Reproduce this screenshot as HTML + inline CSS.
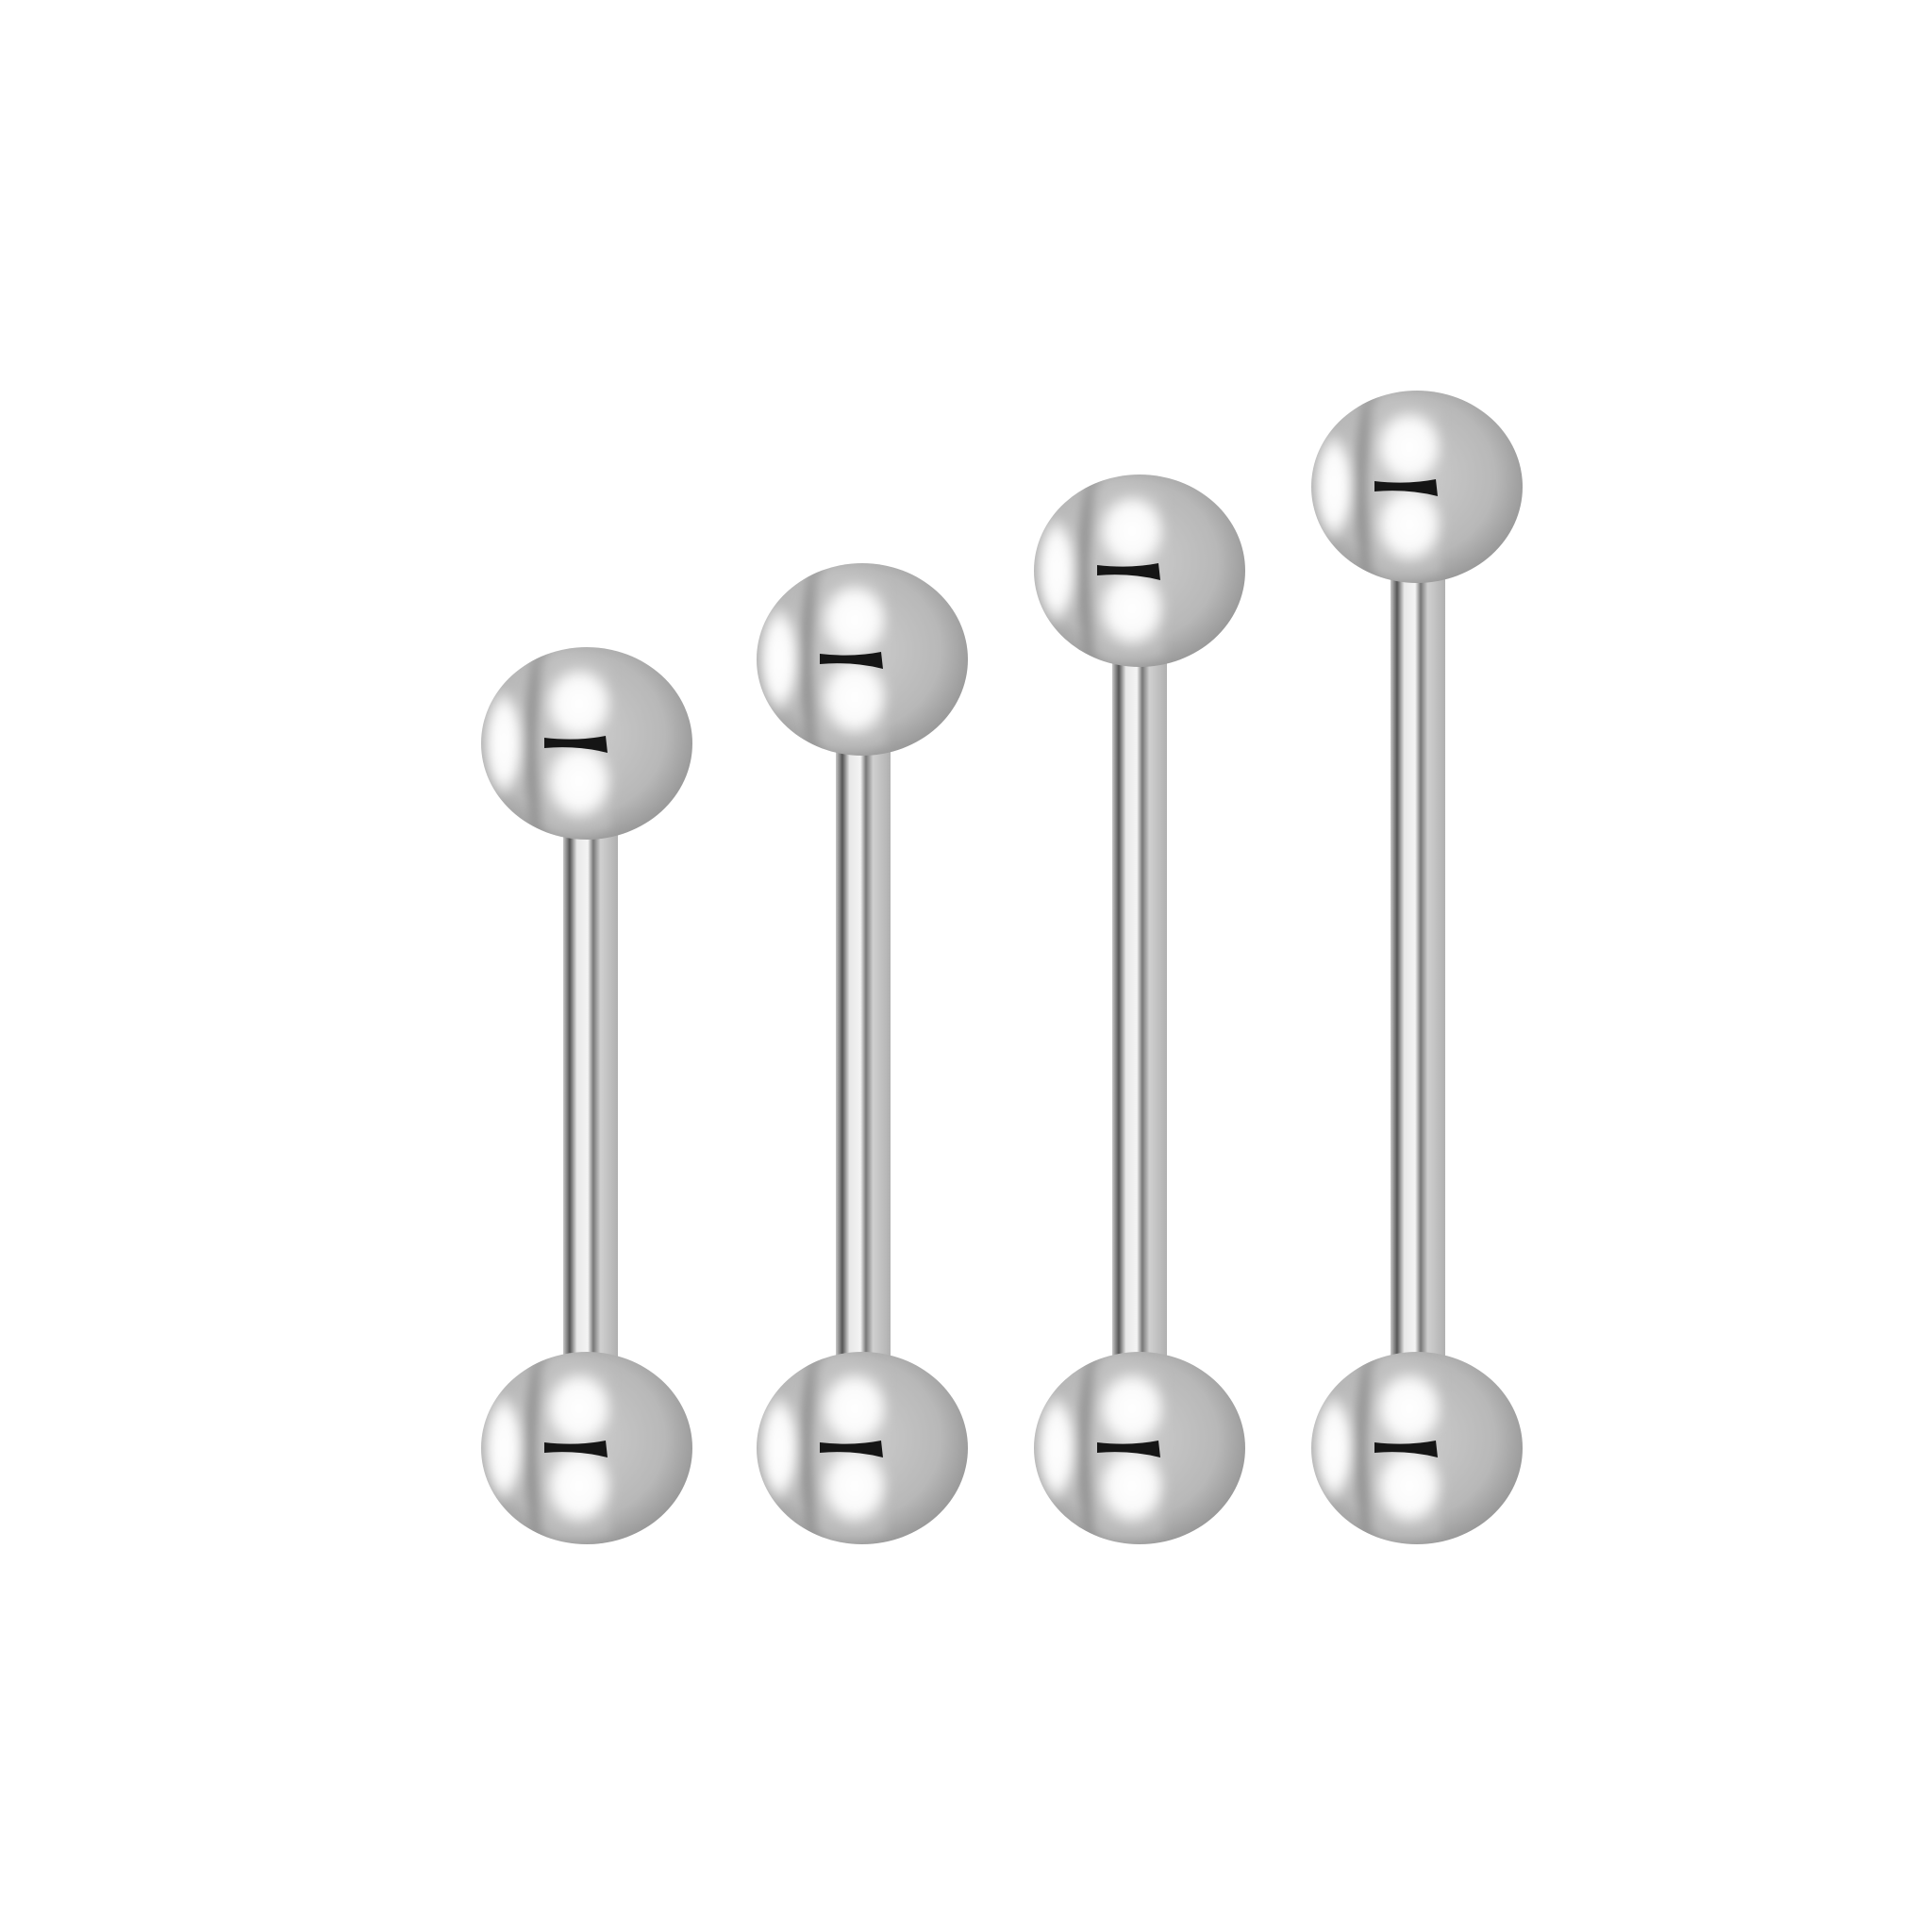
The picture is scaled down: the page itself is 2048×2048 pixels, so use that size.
<!DOCTYPE html>
<html><head><meta charset="utf-8"><style>html,body{margin:0;padding:0;background:#fff}svg{display:block}</style></head>
<body>
<svg width="2048" height="2048" viewBox="0 0 2048 2048" xmlns="http://www.w3.org/2000/svg">
<defs>
<filter id="soft" x="-20%" y="-20%" width="140%" height="140%"><feGaussianBlur stdDeviation="5"/></filter>
<linearGradient id="bar" x1="0" x2="1" y1="0" y2="0">
<stop offset="0" stop-color="#c8c8c8"/><stop offset="0.12" stop-color="#555"/><stop offset="0.25" stop-color="#e8e8e8"/>
<stop offset="0.45" stop-color="#f4f4f4"/><stop offset="0.55" stop-color="#777"/><stop offset="0.68" stop-color="#d0d0d0"/>
<stop offset="1" stop-color="#b0b0b0"/></linearGradient>
<radialGradient id="ballg" cx="0.45" cy="0.45" r="0.6">
<stop offset="0" stop-color="#cfcfcf"/><stop offset="0.7" stop-color="#b8b8b8"/><stop offset="1" stop-color="#939393"/></radialGradient>
<radialGradient id="hl" cx="0.5" cy="0.5" r="0.5">
<stop offset="0" stop-color="#fff"/><stop offset="0.6" stop-color="#fafafa"/><stop offset="1" stop-color="#fff" stop-opacity="0"/></radialGradient>
<clipPath id="bc"><ellipse cx="0" cy="0" rx="112" ry="102"/></clipPath>
<g id="ball">
<ellipse cx="0" cy="0" rx="112" ry="102" fill="url(#ballg)"/>
<g clip-path="url(#bc)"><g filter="url(#soft)">
<ellipse cx="-88" cy="0" rx="22" ry="60" fill="url(#hl)"/>
<path d="M-55,-95 C-70,-40 -70,40 -55,95 L-40,100 C-55,40 -55,-40 -40,-100Z" fill="#7a7a7a" opacity="0.6"/>
<path d="M-50,-90 Q-10,-105 25,-80 L25,90 Q-10,105 -50,90Z" fill="#c4c4c4" opacity="0.6"/>
<ellipse cx="-8" cy="-42" rx="38" ry="42" fill="url(#hl)"/>
<ellipse cx="-8" cy="40" rx="38" ry="44" fill="url(#hl)"/>
</g></g>
<path d="M-45,-6 Q-10,-2 20,-8 L22,10 Q-10,2 -45,5Z" fill="#151515"/>
</g>
</defs>
<rect width="2048" height="2048" fill="#fff"/>
<rect x="597" y="870" width="58" height="580" fill="url(#bar)"/>
<rect x="886" y="780" width="58" height="670" fill="url(#bar)"/>
<rect x="1179" y="690" width="58" height="760" fill="url(#bar)"/>
<rect x="1474" y="600" width="58" height="850" fill="url(#bar)"/>
<use href="#ball" x="622" y="788"/>
<use href="#ball" x="622" y="1535"/>
<use href="#ball" x="914" y="699"/>
<use href="#ball" x="914" y="1535"/>
<use href="#ball" x="1208" y="605"/>
<use href="#ball" x="1208" y="1535"/>
<use href="#ball" x="1502" y="516"/>
<use href="#ball" x="1502" y="1535"/>
</svg>
</body></html>
